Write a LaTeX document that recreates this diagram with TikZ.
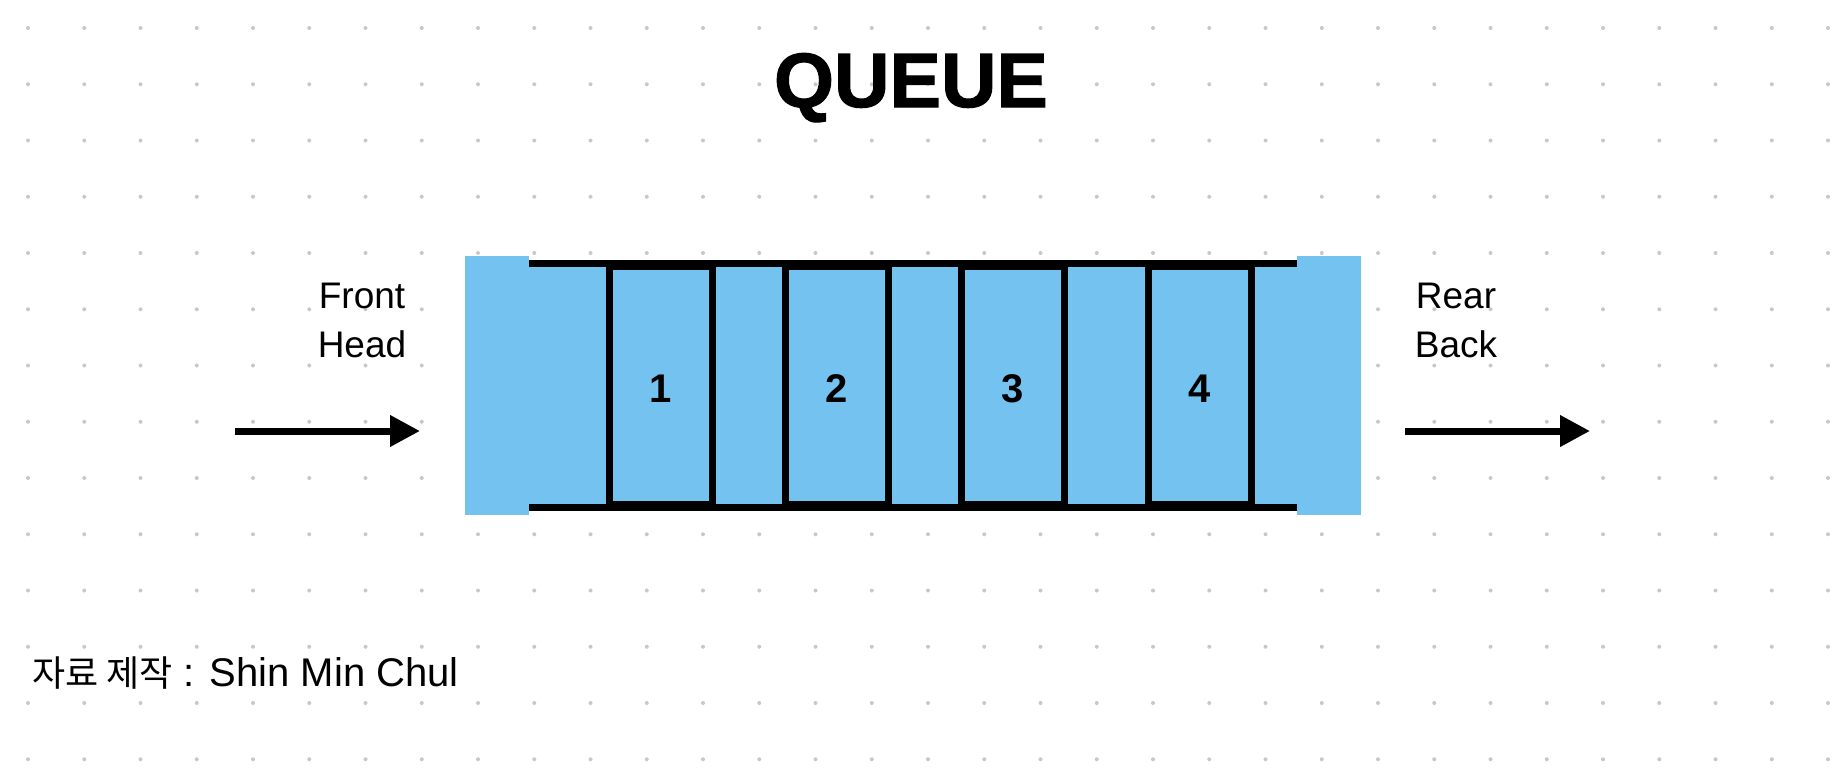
\documentclass[tikz,border=0pt]{standalone}
\usepackage{fontspec}
\setmainfont{Liberation Sans}
\newfontfamily\krfont{Noto Sans CJK KR}
\newfontfamily\titlefont[FakeBold=1.5]{Liberation Sans Bold}
\usetikzlibrary{arrows.meta}
\definecolor{qblue}{RGB}{116,194,240}
\definecolor{dotgray}{RGB}{200,200,200}

\begin{document}
\begin{tikzpicture}[x=1pt,y=-1pt,
  lbl/.style={font=\fontsize{37}{49}\selectfont,align=center,inner sep=0pt},
  cell/.style={draw,line width=7pt,fill=qblue,minimum width=103pt,minimum height=238pt,inner sep=0pt,
    text height=34pt,text depth=0pt,font=\fontsize{40}{40}\selectfont\bfseries},
  endcap/.style={fill=qblue,inner sep=0pt,minimum width=64pt,minimum height=259pt},
  rail/.style={line width=7pt},
  flow/.style={line width=7pt,-{Triangle[length=30pt,width=30pt]}}]

% --- page and dot grid ------------------------------------------------
\fill[white] (0,0) rectangle (1836,768);
\useasboundingbox (0,0) rectangle (1836,768);
\foreach \i in {0,...,32}
  \foreach \j in {0,...,13}
    \fill[dotgray] ({28+56.25*\i},{28+56.25*\j}) circle (2pt);

% --- title ------------------------------------------------------------
\node[font=\fontsize{77}{77}\selectfont\titlefont,anchor=base] (title) at (911,107) {QUEUE};

% --- queue body -------------------------------------------------------
\node[fill=qblue,inner sep=0pt,minimum width=768pt,minimum height=244pt] (body) at (913,385.5) {};
\node[cell] (c1) at (661,385.5) {1};
\node[cell] (c2) at (836.5,385.5) {2};
\node[cell] (c3) at (1013,385.5) {3};
\node[cell] (c4) at (1199.5,385.5) {4};
\draw[rail] (body.north west) -- (body.north east);
\draw[rail] (body.south west) -- (body.south east);
\node[endcap] (capL) at (497,385.5) {};
\node[endcap] (capR) at (1329,385.5) {};

% --- ends -------------------------------------------------------------
\node[lbl,anchor=base] (front) at (362,357) {Front\\Head};
\coordinate (inTail) at (235,431);
\coordinate (inTip) at (420,431);
\draw[flow] (inTail) -- (inTip);

\node[lbl,anchor=base] (rear) at (1456,357) {Rear\\Back};
\coordinate (outTail) at (1405,431);
\coordinate (outTip) at (1590,431);
\draw[flow] (outTail) -- (outTip);

% --- credit -----------------------------------------------------------
\node[anchor=base west,inner sep=0pt,font=\fontsize{40}{40}\selectfont] (credit) at (32,686)
  {{\krfont\fontsize{36}{36}\selectfont 자료 제작} : Shin Min Chul};
\end{tikzpicture}
\end{document}
